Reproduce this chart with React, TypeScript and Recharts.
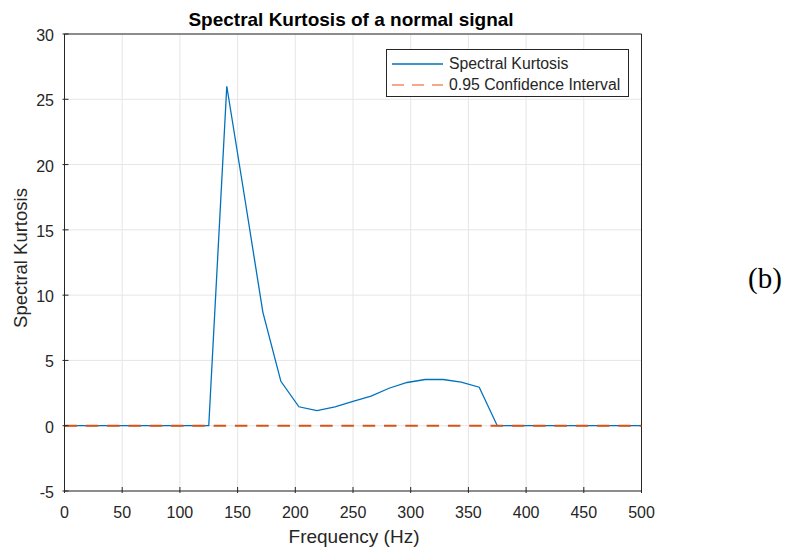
import React from 'react';
import { LineChart, Line, XAxis, YAxis, CartesianGrid, ReferenceLine } from 'recharts';

const frequencies = [
  0, 15.625, 31.25, 46.875, 62.5, 78.125, 93.75, 109.375, 125, 140.625, 156.25, 171.875, 187.5,
  203.125, 218.75, 234.375, 250, 265.625, 281.25, 296.875, 312.5, 328.125, 343.75, 359.375, 375,
  390.625, 406.25, 421.875, 437.5, 453.125, 468.75, 484.375, 500,
];
const kurtosis = [
  0, 0, 0, 0, 0, 0, 0, 0, 0, 26.0, 17.4, 8.7, 3.4, 1.45, 1.15, 1.45, 1.87, 2.27, 2.87, 3.31, 3.54,
  3.54, 3.34, 2.95, 0, 0, 0, 0, 0, 0, 0, 0, 0,
];
const ciFrequencies = [0, 500];
const ciValues = [0, 0];

const xTicks = [0, 50, 100, 150, 200, 250, 300, 350, 400, 450, 500];
const yTicks = [-5, 0, 5, 10, 15, 20, 25, 30];

const data = frequencies.map((f, i) => ({ f, sk: kurtosis[i] }));
const ciData = ciFrequencies.map((f, i) => ({ f, ci: ciValues[i] }));

const FONT = '"Liberation Sans", Arial, Helvetica, sans-serif';
const TEXT = '#262626';
const BLUE = '#0072BD';
const RED = '#D95319';

const XTick = (props: any) => {
  const { x, y, payload } = props;
  return (
    <g>
      <line x1={x} x2={x} y1={y} y2={y - 6} stroke={TEXT} strokeWidth={1} />
      <text x={x} y={y + 25} textAnchor="middle" fill={TEXT} fontSize={16} fontFamily={FONT}>
        {payload.value}
      </text>
    </g>
  );
};

const TopTick = (props: any) => {
  const { x, y } = props;
  return <line x1={x} x2={x} y1={y} y2={y + 6} stroke={TEXT} strokeWidth={1} />;
};

const YTick = (props: any) => {
  const { x, y, payload } = props;
  return (
    <g>
      <line x1={x} x2={x + 6} y1={y} y2={y} stroke={TEXT} strokeWidth={1} />
      <text x={x - 8.5} y={y + 7} textAnchor="end" fill={TEXT} fontSize={16} fontFamily={FONT}>
        {payload.value}
      </text>
    </g>
  );
};

const RightTick = (props: any) => {
  const { x, y } = props;
  return <line x1={x} x2={x - 6} y1={y} y2={y} stroke={TEXT} strokeWidth={1} />;
};

const LegendBox = () => (
  <div
    style={{
      position: 'absolute',
      left: 386,
      top: 49,
      width: 243,
      height: 48,
      border: '1px solid #262626',
      background: '#fff',
      boxSizing: 'border-box',
      fontFamily: FONT,
      fontSize: 15.8,
      color: TEXT,
      paddingTop: 3,
      lineHeight: 1,
    }}
  >
    <div style={{ display: 'flex', alignItems: 'center', height: 21 }}>
      <svg width={62} height={10} style={{ flex: 'none' }}>
        <line x1={5} x2={56} y1={5} y2={5} stroke={BLUE} strokeWidth={1.3} />
      </svg>
      <span>Spectral Kurtosis</span>
    </div>
    <div style={{ display: 'flex', alignItems: 'center', height: 21 }}>
      <svg width={62} height={10} style={{ flex: 'none' }}>
        <line x1={5} x2={56} y1={5} y2={5} stroke="#F2A88A" strokeWidth={1.8} strokeDasharray="12 8" />
      </svg>
      <span>0.95 Confidence Interval</span>
    </div>
  </div>
);

export default function App() {
  return (
    <div style={{ position: 'absolute', left: 0, top: 0, width: 787, height: 549, background: '#fff' }}>
      <LineChart width={787} height={549} data={data} margin={{ top: 34, right: 145.5, bottom: 0, left: 0 }}>
        <CartesianGrid stroke="#e6e6e6" strokeWidth={1} />
        <XAxis
          dataKey="f"
          type="number"
          domain={[0, 500]}
          ticks={xTicks}
          height={58}
          tickSize={0}
          tick={<XTick />}
          stroke={TEXT}
          allowDataOverflow
        />
        <XAxis
          xAxisId="top"
          orientation="top"
          dataKey="f"
          type="number"
          domain={[0, 500]}
          ticks={xTicks}
          height={0}
          tickSize={0}
          tick={<TopTick />}
          axisLine={false}
          allowDataOverflow
        />
        <YAxis
          type="number"
          domain={[-5, 30]}
          ticks={yTicks}
          width={64.5}
          tickSize={0}
          tick={<YTick />}
          stroke={TEXT}
          allowDataOverflow
        />
        <YAxis
          yAxisId="right"
          orientation="right"
          type="number"
          domain={[-5, 30]}
          ticks={yTicks}
          width={0}
          tickSize={0}
          tick={<RightTick />}
          axisLine={false}
          allowDataOverflow
        />
        <ReferenceLine y={30} stroke={TEXT} strokeWidth={1} />
        <ReferenceLine x={500} stroke={TEXT} strokeWidth={1} />
        <Line
          dataKey="sk"
          stroke={BLUE}
          strokeWidth={1.3}
          dot={false}
          isAnimationActive={false}
          type="linear"
        />
        <Line
          data={ciData}
          dataKey="ci"
          stroke={RED}
          strokeWidth={2}
          strokeDasharray="12.5 8.8"
          dot={false}
          isAnimationActive={false}
          type="linear"
        />
        <text x={351} y={25.5} textAnchor="middle" fontSize={19} fontWeight="bold" fill="#000" fontFamily={FONT}>
          Spectral Kurtosis of a normal signal
        </text>
        <text x={354} y={543} textAnchor="middle" fontSize={19} fill={TEXT} fontFamily={FONT}>
          Frequency (Hz)
        </text>
        <text
          x={27}
          y={258}
          textAnchor="middle"
          fontSize={18.5}
          fill={TEXT}
          fontFamily={FONT}
          transform="rotate(-90 27 258)"
        >
          Spectral Kurtosis
        </text>
        <text
          x={765}
          y={288}
          textAnchor="middle"
          fontSize={29}
          fill="#000"
          fontFamily='"Liberation Serif", "Times New Roman", serif'
        >
          (b)
        </text>
      </LineChart>
      <LegendBox />
    </div>
  );
}
